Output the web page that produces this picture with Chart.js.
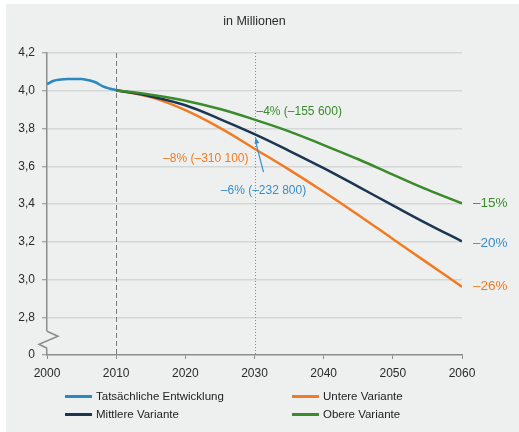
<!DOCTYPE html>
<html>
<head>
<meta charset="utf-8">
<script src="https://cdn.jsdelivr.net/npm/chart.js@4.4.1/dist/chart.umd.min.js"></script>
<style>
  html, body { margin: 0; padding: 0; background: #ffffff; }
  #frame { position: absolute; left: 6px; top: 4px; width: 513px; height: 428px; background: #eef0ef; }
  #chart { position: absolute; left: 0; top: 0; }
  #legend {
    position: absolute; left: 65px; top: 387px;
    display: grid; grid-template-columns: 227px auto; grid-auto-rows: 18px;
    font-family: "Liberation Sans", Arial, sans-serif; font-size: 11.5px; color: #222;
  }
  .item { display: flex; align-items: center; white-space: nowrap; }
  .swatch { display: inline-block; width: 27px; height: 3px; margin-right: 4px; }
</style>
</head>
<body>
<div id="frame"></div>
<canvas id="chart" width="519" height="432"></canvas>
<div id="legend"></div>
<script>
// Einwohner in Millionen
const actualYears  = [2000, 2001, 2002, 2003, 2004, 2005, 2006, 2007, 2008, 2009, 2010];
const actualValues = [4.035, 4.053, 4.059, 4.062, 4.062, 4.062, 4.056, 4.045, 4.025, 4.012, 4.003];

const projectionYears = [2010, 2015, 2020, 2025, 2030, 2035, 2040, 2045, 2050, 2055, 2060];
const upperValues  = [4.003, 3.979, 3.947, 3.903, 3.847, 3.785, 3.712, 3.637, 3.556, 3.476, 3.403];
const middleValues = [4.003, 3.970, 3.923, 3.850, 3.770, 3.682, 3.590, 3.492, 3.393, 3.295, 3.202];
const lowerValues  = [4.003, 3.966, 3.897, 3.803, 3.693, 3.582, 3.465, 3.342, 3.215, 3.088, 2.962];

const chartTitle = 'in Millionen';
const seriesNames = ['Tatsächliche Entwicklung', 'Obere Variante', 'Mittlere Variante', 'Untere Variante'];
const legendOrder = ['Tatsächliche Entwicklung', 'Untere Variante', 'Mittlere Variante', 'Obere Variante'];

const xTicks = [2000, 2010, 2020, 2030, 2040, 2050, 2060];
const yTicks = [2.6, 2.8, 3.0, 3.2, 3.4, 3.6, 3.8, 4.0, 4.2];

const change2030Labels = { upper: '–4% (–155 600)', middle: '–6% (–232 800)', lower: '–8% (–310 100)' };
const change2060Labels = { upper: '–15%', middle: '–20%', lower: '–26%' };

const C = {
  actual: '#2b88c2', upper: '#3b8a2c', middle: '#1b3552', lower: '#f27a22',
  midText: '#3a8cc8', grid: '#d5d7d6', axis: '#8c8c8c', bg: '#eef0ef', text: '#2a2a2a'
};
const FONT = '"Liberation Sans", Arial, sans-serif';

const toPoints = (xs, ys) => xs.map((x, i) => ({ x: x, y: ys[i] }));

function line(label, xs, ys, color) {
  return {
    label: label, data: toPoints(xs, ys), borderColor: color, backgroundColor: color,
    borderWidth: 2.5, pointRadius: 0, pointHoverRadius: 0, fill: false,
    tension: 0.4
  };
}

// title, axis break, reference lines, annotations
const decor = {
  id: 'decor',
  beforeDatasetsDraw(chart) {
    const { ctx, chartArea: a, scales: { x } } = chart;
    ctx.save();
    ctx.lineWidth = 1;
    ctx.strokeStyle = '#7a7a7a';
    ctx.setLineDash([5, 3]);
    const x10 = Math.round(x.getPixelForValue(2010)) + 0.5;
    ctx.beginPath(); ctx.moveTo(x10, a.top); ctx.lineTo(x10, a.bottom); ctx.stroke();
    ctx.strokeStyle = '#8a8a8a';
    ctx.setLineDash([1, 2]);
    const x30 = Math.round(x.getPixelForValue(2030)) + 0.5;
    ctx.beginPath(); ctx.moveTo(x30, a.top); ctx.lineTo(x30, a.bottom); ctx.stroke();
    ctx.restore();
  },
  afterDatasetsDraw(chart) {
    const { ctx, chartArea: a, scales: { x, y } } = chart;
    ctx.save();
    // title over the plot area
    ctx.font = '12.5px ' + FONT;
    ctx.fillStyle = C.text; ctx.textAlign = 'center'; ctx.textBaseline = 'middle';
    ctx.fillText(chartTitle, (a.left + a.right) / 2, 22);

    const x30 = x.getPixelForValue(2030);
    const i30 = projectionYears.indexOf(2030);
    const yU = y.getPixelForValue(upperValues[i30]);
    const yM = y.getPixelForValue(middleValues[i30]);
    const yL = y.getPixelForValue(lowerValues[i30]);

    ctx.font = '12px ' + FONT;
    ctx.fillStyle = C.upper; ctx.textAlign = 'left';
    ctx.fillText(change2030Labels.upper, x30 + 2, yU - 8);
    ctx.fillStyle = C.lower; ctx.textAlign = 'right';
    ctx.fillText(change2030Labels.lower, x30 - 6, yL + 10);
    ctx.fillStyle = C.midText; ctx.textAlign = 'center';
    ctx.fillText(change2030Labels.middle, x30 + 9, yM + 57);

    // arrow to the middle variant in 2030
    const tx = x30 + 1, ty = yM + 3, sx = x30 + 9, sy = yM + 38;
    ctx.strokeStyle = C.midText; ctx.fillStyle = C.midText; ctx.lineWidth = 1.2;
    ctx.beginPath(); ctx.moveTo(sx, sy); ctx.lineTo(tx, ty + 4); ctx.stroke();
    const ang = Math.atan2(ty - sy, tx - sx);
    ctx.beginPath();
    ctx.moveTo(tx, ty);
    ctx.lineTo(tx - 7 * Math.cos(ang - 0.35), ty - 7 * Math.sin(ang - 0.35));
    ctx.lineTo(tx - 7 * Math.cos(ang + 0.35), ty - 7 * Math.sin(ang + 0.35));
    ctx.closePath(); ctx.fill();

    // changes until 2060
    const last = projectionYears.length - 1;
    ctx.font = '13.5px ' + FONT;
    ctx.textAlign = 'left';
    const xe = x.getPixelForValue(2060) + 11;
    ctx.fillStyle = C.upper; ctx.fillText(change2060Labels.upper, xe, y.getPixelForValue(upperValues[last]));
    ctx.fillStyle = C.midText; ctx.fillText(change2060Labels.middle, xe, y.getPixelForValue(middleValues[last]) + 2);
    ctx.fillStyle = C.lower; ctx.fillText(change2060Labels.lower, xe, y.getPixelForValue(lowerValues[last]));
    ctx.restore();
  },
  afterDraw(chart) {
    const { ctx, chartArea: a, scales: { y } } = chart;
    const x0 = a.left;
    const yb = y.getPixelForValue(2.8);
    const top = yb + 14, bot = yb + 31;
    ctx.save();
    ctx.fillStyle = C.bg;
    ctx.fillRect(x0 - 3, top, 6, bot - top);
    ctx.strokeStyle = C.axis; ctx.lineWidth = 1.5;
    ctx.beginPath();
    ctx.moveTo(x0, top);
    ctx.lineTo(x0 + 11, top + 5);
    ctx.lineTo(x0 - 8, top + 13);
    ctx.lineTo(x0, bot);
    ctx.stroke();
    ctx.restore();
  }
};

const chart = new Chart(document.getElementById('chart'), {
  type: 'line',
  data: {
    datasets: [
      line(seriesNames[0], actualYears, actualValues, C.actual),
      line(seriesNames[1], projectionYears, upperValues, C.upper),
      line(seriesNames[2], projectionYears, middleValues, C.middle),
      line(seriesNames[3], projectionYears, lowerValues, C.lower)
    ]
  },
  options: {
    responsive: false,
    animation: false,
    events: [],
    layout: { padding: { left: 0, right: 57, top: 53, bottom: 47 } },
    plugins: {
      legend: { display: false },
      tooltip: { enabled: false },
      title: { display: false }
    },
    scales: {
      x: {
        type: 'linear', min: xTicks[0], max: xTicks[xTicks.length - 1],
        afterBuildTicks: s => { s.ticks = xTicks.map(v => ({ value: v })); },
        afterFit: s => { s.height = 30; },
        ticks: { color: C.text, font: { family: FONT, size: 12 }, padding: 7, callback: v => String(v), maxRotation: 0 },
        grid: { drawOnChartArea: false, tickLength: 4, color: C.axis, tickColor: C.axis },
        border: { color: C.axis, width: 1.5 }
      },
      y: {
        type: 'linear', min: yTicks[0], max: yTicks[yTicks.length - 1],
        afterBuildTicks: s => { s.ticks = yTicks.map(v => ({ value: v })); },
        afterFit: s => { s.width = 47; },
        ticks: {
          color: C.text, font: { family: FONT, size: 12 }, padding: 7,
          callback: v => (v < 2.7 ? '0' : v.toFixed(1).replace('.', ','))
        },
        grid: {
          color: c => (c.tick && c.tick.value < 2.7 ? 'rgba(0,0,0,0)' : C.grid),
          lineWidth: 1.5, tickLength: 5, tickColor: C.axis, tickWidth: 1
        },
        border: { color: C.axis, width: 1.5 }
      }
    }
  },
  plugins: [decor]
});

// legend in two columns
const legend = document.getElementById('legend');
legendOrder.forEach(name => {
  const ds = chart.data.datasets.find(d => d.label === name);
  const item = document.createElement('div');
  item.className = 'item';
  const sw = document.createElement('span');
  sw.className = 'swatch';
  sw.style.background = ds.borderColor;
  item.appendChild(sw);
  item.appendChild(document.createTextNode(ds.label));
  legend.appendChild(item);
});
</script>
</body>
</html>
